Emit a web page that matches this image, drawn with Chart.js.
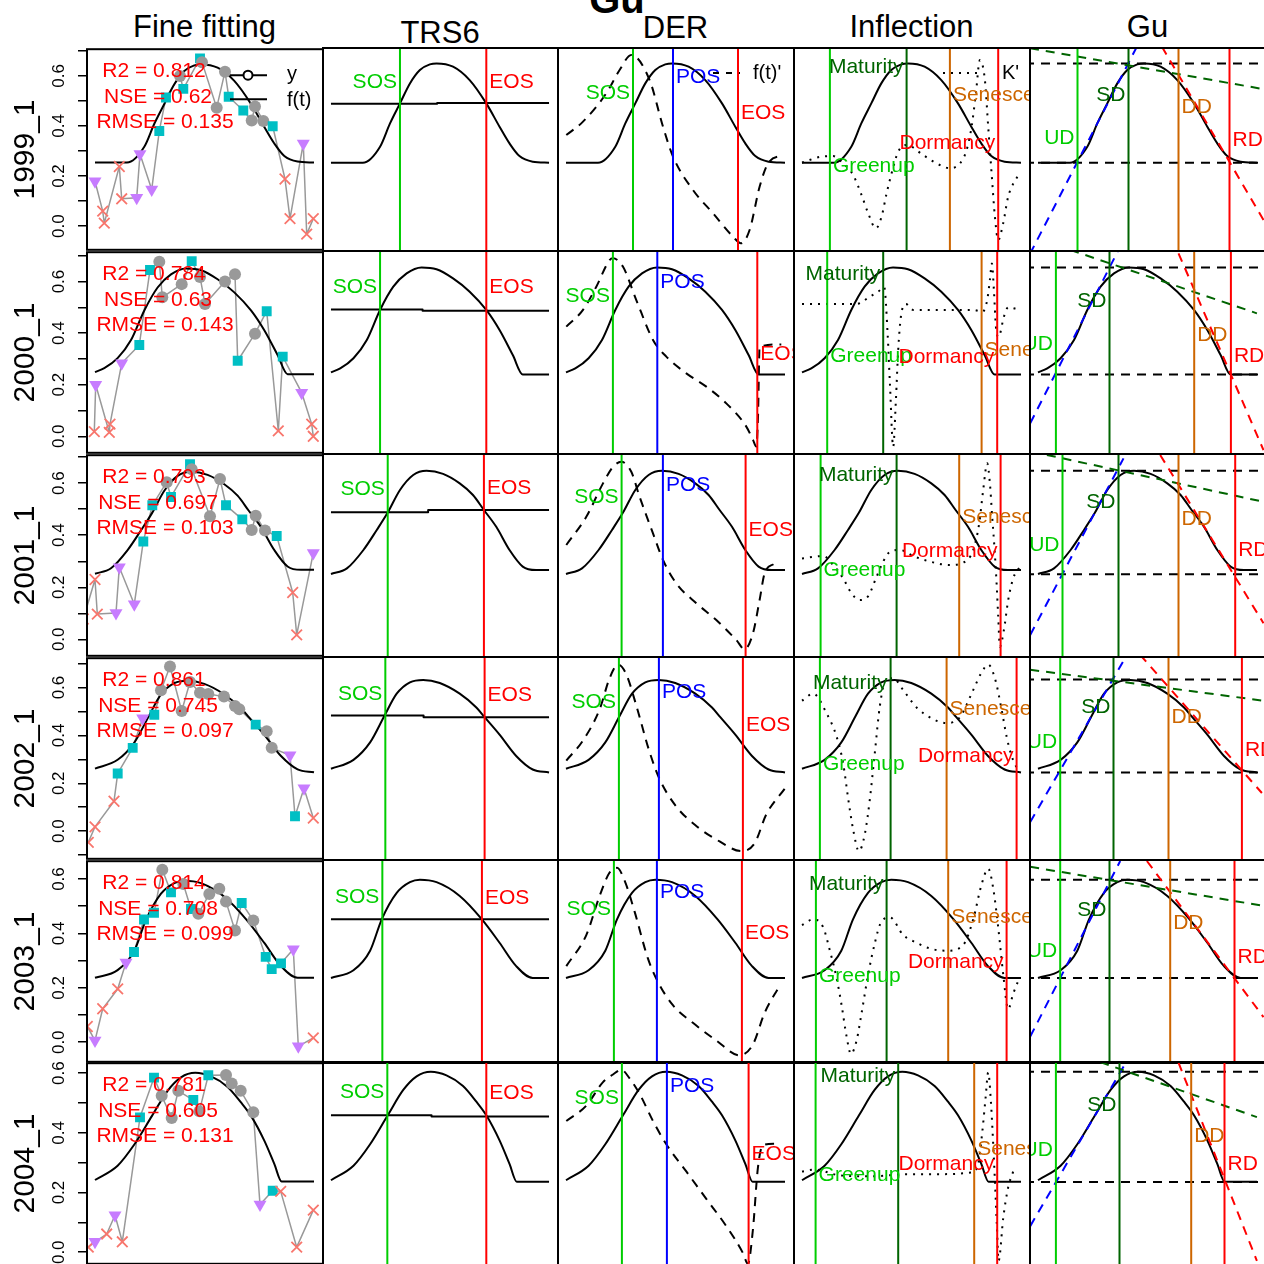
<!DOCTYPE html>
<html>
<head>
<meta charset="utf-8">
<script src="https://cdn.jsdelivr.net/npm/chart.js@4.4.1/dist/chart.umd.min.js"></script>
<style>
html,body{margin:0;padding:0;background:#fff;overflow:hidden;}
body{width:1264px;height:1264px;position:relative;font-family:'Liberation Sans',Arial,Helvetica,sans-serif;}
canvas{position:absolute;}
.ttl{position:absolute;white-space:nowrap;line-height:1;color:#000;transform:translateX(-50%);}
</style>
</head>
<body>
<script>
// ---------------- DATA ----------------
const mainTitle = 'Gu';
const colTitles = ['Fine fitting', 'TRS6', 'DER', 'Inflection', 'Gu'];
const rowLabels = ['1999_1', '2000_1', '2001_1', '2002_1', '2003_1', '2004_1'];
const yMin = [-0.0947, -0.0640, -0.0634, -0.1156, -0.0719, -0.0387];
const yMax = [0.7067, 0.7138, 0.7076, 0.7225, 0.6656, 0.6334];

const statR2 = ['0.812', '0.784', '0.793', '0.861', '0.814', '0.781'];
const statNSE = ['0.62', '0.63', '0.697', '0.745', '0.708', '0.605'];
const statRMSE = ['0.135', '0.143', '0.103', '0.097', '0.099', '0.131'];

// fitted curve f(t) per season
const fitT = [
  [0, 32, 49.3, 59.3, 69.3, 79.3, 89.3, 99.3, 106, 122.6, 139.3, 156, 169.3, 179.3, 189.3, 202.6, 219],
  [0, 9.3, 22.6, 36, 49.3, 62.6, 76, 91, 106, 122.6, 139.3, 156, 169.3, 182.6, 192.6, 219],
  [0, 16, 32.6, 46, 57, 69.3, 82.6, 96, 112.6, 129.3, 142.6, 153.6, 166, 179.3, 192.6, 206, 219],
  [0, 22.6, 39.3, 53.6, 66, 79.3, 92.6, 109.3, 129.3, 146, 154.3, 169.3, 186, 202.6, 219],
  [0, 22.6, 39.3, 51, 66, 79.3, 89.3, 106, 129.3, 151.6, 169.3, 186, 202.6, 219],
  [0, 22.6, 39.3, 57, 72.6, 86, 100.3, 116, 132.6, 146, 156, 169.3, 179.3, 186.6, 219]
];
const fitV = [
  [0.254, 0.254, 0.317, 0.409, 0.488, 0.567, 0.620, 0.642, 0.646, 0.633, 0.580, 0.488, 0.396, 0.330, 0.280, 0.258, 0.254],
  [0.249, 0.264, 0.303, 0.373, 0.488, 0.577, 0.628, 0.651, 0.644, 0.609, 0.558, 0.488, 0.411, 0.315, 0.241, 0.241],
  [0.252, 0.273, 0.343, 0.419, 0.485, 0.571, 0.628, 0.644, 0.632, 0.596, 0.552, 0.495, 0.431, 0.343, 0.280, 0.267, 0.267],
  [0.261, 0.298, 0.370, 0.479, 0.571, 0.618, 0.628, 0.615, 0.571, 0.514, 0.474, 0.402, 0.314, 0.258, 0.246],
  [0.237, 0.265, 0.336, 0.450, 0.546, 0.585, 0.594, 0.585, 0.535, 0.450, 0.365, 0.280, 0.237, 0.237],
  [0.242, 0.290, 0.361, 0.457, 0.541, 0.586, 0.601, 0.589, 0.554, 0.502, 0.457, 0.374, 0.296, 0.237, 0.237]
];

// observations y: time, value, quality (c = grey circle, s = cyan square, t = purple triangle, x = salmon cross)
const obsT = [
  [0, 7.7, 9.3, 24.3, 26.7, 41.7, 45, 56.7, 64.3, 71, 85, 88.3, 105, 107, 121.7, 130, 133.7, 148.3, 156.7, 160, 168.3, 177.7, 190, 195, 208.3, 211.7, 218.3],
  [-0.7, 0.7, 14.3, 15, 26.7, 44.3, 55, 64.3, 67.3, 86.7, 96.7, 105, 110, 130, 140, 142.7, 160, 171.7, 183.3, 187.7, 206.7, 216.7, 218.3],
  [-11.7, 0, 2.3, 21, 24.3, 39.3, 48.3, 57.3, 71.7, 76, 95, 96.7, 115, 125, 131, 147.3, 156.7, 160.7, 170, 181.7, 197.7, 201.7, 218.3],
  [-6.7, 0, 19, 22.7, 37.7, 47.7, 59.3, 66, 75, 86.7, 95, 105, 113.3, 129, 140, 144.3, 160.7, 171.7, 176.7, 195, 200, 209, 218.3],
  [-7.7, 0, 7.7, 22.7, 31, 39, 49, 59, 67.3, 76, 88.3, 96, 103.3, 114.3, 124.3, 131, 140, 146.7, 158.3, 170.7, 176.7, 186, 198.3, 203.3, 218.3],
  [-6.7, 0, 11.7, 20, 27.3, 45, 59, 66.7, 76.7, 83.3, 98.3, 104.3, 113.3, 131, 136.7, 145.7, 158.3, 165, 177.7, 185.7, 201.7, 218.3]
];
const obsV = [
  [0.179, 0.060, 0.012, 0.238, 0.109, 0.113, 0.288, 0.146, 0.380, 0.514, 0.600, 0.548, 0.670, 0.655, 0.473, 0.617, 0.517, 0.462, 0.422, 0.478, 0.420, 0.399, 0.188, 0.030, 0.330, -0.032, 0.030],
  [0.018, 0.200, 0.015, 0.047, 0.283, 0.354, 0.645, 0.677, 0.539, 0.590, 0.679, 0.618, 0.513, 0.600, 0.628, 0.293, 0.398, 0.485, 0.021, 0.309, 0.169, 0.047, 0.000],
  [0.078, 0.230, 0.097, 0.101, 0.277, 0.135, 0.376, 0.515, 0.604, 0.547, 0.673, 0.654, 0.473, 0.616, 0.515, 0.461, 0.420, 0.475, 0.418, 0.397, 0.180, 0.017, 0.332],
  [-0.047, 0.018, 0.125, 0.241, 0.348, 0.472, 0.486, 0.589, 0.688, 0.502, 0.623, 0.578, 0.573, 0.562, 0.523, 0.509, 0.445, 0.417, 0.348, 0.317, 0.062, 0.179, 0.055],
  [0.058, 0.006, 0.123, 0.196, 0.293, 0.332, 0.451, 0.476, 0.634, 0.551, 0.582, 0.490, 0.472, 0.545, 0.564, 0.517, 0.411, 0.512, 0.448, 0.314, 0.269, 0.290, 0.342, -0.015, 0.016],
  [0.017, 0.035, 0.061, 0.124, 0.035, 0.452, 0.585, 0.524, 0.450, 0.541, 0.510, 0.472, 0.593, 0.594, 0.565, 0.541, 0.469, 0.160, 0.206, 0.204, 0.017, 0.141]
];
const obsQ = [
  'txxxxtttsscsscccsscccsxxtxx',
  'xtxxtsscccsccccscsxstxx',
  'xxxtttsscsscccsscccsxxt',
  'xxxsstscccccccccscctstx',
  'xtxxtssscscscccccscsssttx',
  'xtxtxsscccscscccctsxxx'
];

// TRS6
const trsSOS = [69.3, 49.3, 57, 54.6, 51.6, 56.6];
const trsEOS = [156, 156, 153.6, 154.3, 151.6, 156];
const trsThrL = [0.487, 0.490, 0.486, 0.481, 0.450, 0.457];
const trsThrR = [0.4895, 0.485, 0.495, 0.474, 0.450, 0.453];
const trsStepT = [106.6, 92, 97.6, 93, 89, 101];
const trsLabY = [[0.572, 0.572], [0.577, 0.576], [0.573, 0.577], [0.567, 0.564], [0.532, 0.528], [0.534, 0.530]];

// DER: rescaled derivative f(t)'
const derT = [
  [0.3, 17, 40.3, 53.6, 65.3, 83.6, 97, 107, 127, 147, 167, 175, 183.6, 193.6, 202, 217],
  [0.3, 17, 30.3, 43.6, 46.9, 56.9, 70.3, 87, 100.3, 120.3, 140.3, 160.3, 180.3, 187, 190.3, 192, 193.6, 215.3],
  [0.3, 20.3, 37, 47, 55.3, 65.3, 73.6, 87, 97, 110.3, 130.3, 150.3, 170.3, 178.6, 187, 193.6, 198.6, 208.6],
  [0.3, 17, 33.6, 43.6, 52, 60.3, 70.3, 83.6, 93.6, 110.3, 130.3, 153.6, 175.3, 188.6, 200.3, 218.6],
  [0.3, 20.3, 33.6, 43.6, 51, 58.6, 68.6, 81.9, 91.9, 106.9, 126.9, 150.3, 173.6, 187, 198.6, 213.6],
  [0.3, 20.3, 37, 47, 55.3, 63.6, 73.6, 87, 100.3, 120.3, 140.3, 160.3, 176.9, 181.9, 186.9, 191.9, 196.9, 208.6]
];
const derV = [
  [0.363, 0.416, 0.528, 0.620, 0.679, 0.580, 0.396, 0.278, 0.146, 0.054, -0.038, -0.064, -0.012, 0.159, 0.251, 0.284],
  [0.424, 0.488, 0.577, 0.679, 0.686, 0.654, 0.526, 0.373, 0.309, 0.245, 0.194, 0.130, 0.041, -0.010, -0.036, 0.079, 0.347, 0.356],
  [0.362, 0.469, 0.596, 0.659, 0.678, 0.640, 0.545, 0.406, 0.305, 0.216, 0.141, 0.077, 0.001, -0.034, 0.027, 0.153, 0.254, 0.292],
  [0.295, 0.378, 0.506, 0.635, 0.691, 0.651, 0.522, 0.330, 0.218, 0.105, 0.025, -0.039, -0.079, -0.047, 0.073, 0.178],
  [0.280, 0.393, 0.535, 0.620, 0.637, 0.591, 0.478, 0.308, 0.223, 0.138, 0.074, 0.010, -0.044, -0.004, 0.110, 0.209],
  [0.438, 0.489, 0.567, 0.592, 0.608, 0.579, 0.528, 0.438, 0.361, 0.271, 0.180, 0.090, 0.001, -0.035, 0.078, 0.283, 0.358, 0.363]
];
const derLines = [[67, 107, 172], [46.9, 91.3, 191.3], [55.6, 96.9, 179.6], [52.9, 92.9, 176.9], [47.9, 90.9, 175.9], [55.9, 100.9, 182.6]];
const derLabY = [[0.529, 0.592, 0.450], [0.539, 0.596, 0.319], [0.543, 0.590, 0.419], [0.535, 0.578, 0.442], [0.488, 0.549, 0.400], [0.515, 0.554, 0.328]];

// Inflection: rescaled curvature change rate K'
const kT = [
  [0, 19.6, 31.2, 41.2, 51.2, 59.6, 66.2, 73.9, 79.6, 84.6, 89.6, 96.2, 104.6, 121.2, 134.6, 147.9, 157.9, 164.6, 169.6, 173.9, 177.9, 182.9, 186.2, 189.6, 192.9, 196.2, 201.2, 206.2, 216.2],
  [0, 54.6, 67.9, 76.2, 82.2, 85.6, 87.9, 91.2, 93.9, 96.2, 98.9, 103.9, 111.2, 171.2, 180.6, 185.2, 187.9, 189.9, 191.9, 193.9, 196.6, 201.9, 206.2, 216.2],
  [0, 21.2, 31.2, 41.2, 49.6, 57.2, 66.2, 73.9, 81.2, 87.9, 97.9, 111.2, 127.9, 147.9, 161.2, 171.2, 177.2, 181.2, 185.2, 187.9, 190.2, 192.6, 194.6, 196.2, 197.9, 201.9, 206.2, 211.2, 217.9],
  [0, 11.2, 24.6, 34.6, 41.2, 46.2, 51.2, 56.9, 62.9, 67.9, 72.9, 77.9, 84.6, 91.2, 101.2, 114.6, 131.2, 144.6, 157.9, 171.2, 179.6, 186.2, 192.9, 199.6, 204.6, 209.6, 216.2],
  [0, 11.2, 21.2, 27.9, 34.6, 39.6, 44.6, 48.9, 54.6, 59.6, 66.2, 72.9, 78.6, 87.9, 101.2, 114.6, 127.9, 144.6, 161.2, 171.2, 179.6, 186.2, 191.2, 196.2, 201.2, 206.2, 211.2, 216.2],
  [0, 12.9, 37.9, 71.2, 104.6, 137.9, 169.6, 176.2, 180.2, 183.6, 186.2, 188.9, 191.2, 193.2, 194.9, 196.6, 201.2, 206.2, 211.2]
];
const kV = [
  [0.254, 0.278, 0.280, 0.251, 0.205, 0.126, 0.054, -0.005, 0.041, 0.133, 0.212, 0.297, 0.324, 0.284, 0.251, 0.232, 0.251, 0.304, 0.396, 0.528, 0.659, 0.580, 0.396, 0.212, 0.041, -0.051, 0.015, 0.120, 0.205],
  [0.511, 0.511, 0.539, 0.558, 0.575, 0.398, 0.207, -0.036, 0.143, 0.334, 0.462, 0.511, 0.488, 0.488, 0.481, 0.526, 0.603, 0.666, 0.564, 0.424, 0.385, 0.462, 0.498, 0.490],
  [0.311, 0.320, 0.286, 0.235, 0.178, 0.153, 0.168, 0.235, 0.299, 0.336, 0.343, 0.320, 0.299, 0.286, 0.295, 0.343, 0.444, 0.571, 0.672, 0.596, 0.469, 0.343, 0.216, 0.090, -0.024, 0.039, 0.153, 0.235, 0.280],
  [0.542, 0.571, 0.490, 0.394, 0.282, 0.137, 0.009, -0.079, -0.007, 0.137, 0.330, 0.522, 0.635, 0.635, 0.586, 0.514, 0.466, 0.450, 0.474, 0.586, 0.659, 0.691, 0.635, 0.506, 0.394, 0.314, 0.253],
  [0.429, 0.450, 0.421, 0.336, 0.237, 0.138, 0.024, -0.039, 0.010, 0.110, 0.251, 0.365, 0.436, 0.457, 0.393, 0.365, 0.344, 0.336, 0.357, 0.450, 0.577, 0.634, 0.563, 0.421, 0.251, 0.124, 0.180, 0.226],
  [0.271, 0.277, 0.258, 0.255, 0.262, 0.262, 0.268, 0.296, 0.399, 0.515, 0.599, 0.502, 0.361, 0.219, 0.090, -0.025, 0.116, 0.219, 0.271]
];
const infLines = [[27.9, 104.6, 147.9, 196.2], [25.2, 81.2, 179.6, 195.2], [18.6, 94.6, 157.2, 198.6], [17.9, 88.6, 144.6, 214.6], [13.9, 84.6, 146.2, 204.6], [13.6, 96.2, 172.2, 195.2]];
const infLabY = [[0.242, 0.632, 0.521, 0.332], [0.311, 0.626, 0.334, 0.307], [0.267, 0.628, 0.466, 0.339], [0.279, 0.615, 0.506, 0.314], [0.244, 0.577, 0.457, 0.294], [0.258, 0.586, 0.345, 0.296]];

// Gu
const guLines = [[39.5, 90.5, 140.5, 191.5], [17.9, 71.5, 156.2, 192.9], [24.5, 80.5, 140.5, 197.2], [22.2, 75.5, 130.5, 203.9], [22.2, 71.5, 132.2, 196.5], [17.9, 81.5, 153.2, 186.5]];
const guLabY = [[0.351, 0.521, 0.474, 0.343], [0.357, 0.520, 0.392, 0.309], [0.362, 0.524, 0.460, 0.343], [0.370, 0.514, 0.474, 0.338], [0.336, 0.482, 0.436, 0.311], [0.341, 0.492, 0.389, 0.296]];
const guHi = [0.646, 0.651, 0.644, 0.630, 0.594, 0.601];
const guLo = [0.254, 0.241, 0.251, 0.246, 0.237, 0.236];
const guBlue = [[-8, -0.106, 98.9, 0.712], [-7.8, 0.054, 80.5, 0.718], [-7.8, 0.020, 85.5, 0.691], [-7.8, 0.041, 88.9, 0.731], [-7.8, 0.024, 82.2, 0.662], [-7.8, 0.090, 88.5, 0.635]];
const guGreen = [[-8, 0.706, 226.2, 0.544], [32.2, 0.718, 218.9, 0.475], [8.9, 0.704, 225.5, 0.526], [-7.8, 0.670, 225.5, 0.542], [-7.8, 0.641, 225.5, 0.499], [62.2, 0.633, 218.9, 0.451]];
const guRed = [[123.9, 0.712, 225.5, 0.028], [140.5, 0.705, 225.5, -0.049], [122.2, 0.704, 225.5, 0.065], [102.2, 0.731, 223.9, 0.161], [108.9, 0.662, 225.5, 0.095], [140.5, 0.631, 218.9, -0.025]];

// ---------------- LAYOUT / STYLE ----------------
const FONT = "'Liberation Sans', Arial, Helvetica, sans-serif";
Chart.defaults.font.family = FONT;
const COL_X = [87, 323, 558, 794, 1030];
const COL_W = [236, 235, 236, 236, 236];
const ROW_Y = [48, 251, 454, 657, 860, 1062];
const ROW_H = 203;
const PAD = 16;
const X_MIN = -8, X_MAX = 228;
const COL = { green: '#00CD00', dkgreen: '#006400', orange: '#CD6600', red: '#FF0000', blue: '#0000FF',
  grey: '#999999', cyan: '#00BFC4', purple: '#C77CFF', salmon: '#F8766D', black: '#000000' };

// titles (HTML text)
function addTitle(text, cx, baseline, size, bold) {
  const d = document.createElement('div');
  d.className = 'ttl';
  d.textContent = text;
  d.style.left = cx + 'px';
  d.style.top = (baseline - 0.8465 * size) + 'px';
  d.style.fontSize = size + 'px';
  if (bold) d.style.fontWeight = 'bold';
  document.body.appendChild(d);
}
addTitle(mainTitle, 617, 13, 40, true);
const titleCX = [204.5, 440, 675.5, 911.5, 1147.5];
const titleBase = [37, 43, 38.3, 37.3, 37.3];
colTitles.forEach((t, i) => addTitle(t, titleCX[i], titleBase[i], 31, false));

// ---------------- HELPERS ----------------
const xy = (ts, vs) => ts.map((t, i) => ({ x: t, y: vs[i] }));
function lineDS(data, color, width, dash, smooth) {
  return { data, borderColor: color, borderWidth: width, borderDash: dash || [], pointRadius: 0, pointHitRadius: 0,
    fill: false, tension: 0, cubicInterpolationMode: smooth ? 'monotone' : 'default', borderCapStyle: 'butt', borderJoinStyle: 'round' };
}
function vline(t, r, color) {
  return lineDS([{ x: t, y: yMin[r] - 1 }, { x: t, y: yMax[r] + 1 }], color, 2);
}
function seg(p, color, dash) {
  return lineDS([{ x: p[0], y: p[1] }, { x: p[2], y: p[3] }], color, 2, dash);
}
const fitDS = r => lineDS(xy(fitT[r], fitV[r]), COL.black, 2, null, true);

const cfgMap = new Map();
const panelPlugin = {
  id: 'panelDeco',
  afterDatasetsDraw(chart) {
    const cfg = cfgMap.get(chart.canvas);
    if (!cfg) return;
    const { ctx, chartArea: a } = chart;
    const sx = chart.scales.x, sy = chart.scales.y;
    ctx.save();
    ctx.beginPath();
    ctx.rect(a.left, a.top, a.right - a.left, a.bottom - a.top);
    ctx.clip();
    ctx.textBaseline = 'middle';
    ctx.font = '21px ' + FONT;
    (cfg.labels || []).forEach(L => {
      ctx.fillStyle = L.color;
      ctx.textAlign = L.side < 0 ? 'right' : 'left';
      ctx.fillText(L.text, sx.getPixelForValue(L.t) + L.side * 3, sy.getPixelForValue(L.v));
    });
    if (cfg.stats) {
      ctx.fillStyle = COL.red;
      ctx.textAlign = 'center';
      ctx.textBaseline = 'alphabetic';
      const dx = [67, 71, 78], dy = [28, 53.5, 78.5];
      cfg.stats.forEach((s, i) => ctx.fillText(s, a.left + dx[i], a.top + dy[i]));
    }
    if (cfg.legend) {
      ctx.strokeStyle = COL.black;
      ctx.fillStyle = COL.black;
      ctx.lineWidth = 2;
      ctx.font = '20px ' + FONT;
      ctx.textAlign = 'left';
      ctx.textBaseline = 'middle';
      if (cfg.legend === 'fit') {
        ctx.beginPath(); ctx.moveTo(a.left + 143, a.top + 26); ctx.lineTo(a.left + 180, a.top + 26); ctx.stroke();
        ctx.fillStyle = '#fff';
        ctx.beginPath(); ctx.arc(a.left + 161, a.top + 26, 4.5, 0, Math.PI * 2); ctx.fill(); ctx.stroke();
        ctx.fillStyle = COL.black;
        ctx.fillText('y', a.left + 200, a.top + 25);
        ctx.beginPath(); ctx.moveTo(a.left + 143, a.top + 50); ctx.lineTo(a.left + 180, a.top + 50); ctx.stroke();
        ctx.fillText('f(t)', a.left + 200, a.top + 51);
      } else if (cfg.legend === 'der') {
        ctx.setLineDash([6, 7]);
        ctx.beginPath(); ctx.moveTo(a.left + 155, a.top + 25); ctx.lineTo(a.left + 182, a.top + 25); ctx.stroke();
        ctx.setLineDash([]);
        ctx.fillText("f(t)'", a.left + 195, a.top + 25);
      } else if (cfg.legend === 'k') {
        ctx.setLineDash([2, 6]);
        ctx.beginPath(); ctx.moveTo(a.left + 149, a.top + 25); ctx.lineTo(a.left + 183, a.top + 25); ctx.stroke();
        ctx.setLineDash([]);
        ctx.fillText("K'", a.left + 208, a.top + 25);
      }
    }
    ctx.restore();
  },
  afterDraw(chart) {
    const { ctx, chartArea: a } = chart;
    ctx.save();
    ctx.strokeStyle = '#000';
    ctx.lineWidth = 2;
    ctx.strokeRect(a.left, a.top, a.right - a.left, a.bottom - a.top);
    ctx.restore();
  }
};

function addChart(r, c, datasets, deco) {
  const first = c === 0;
  const left = first ? 0 : COL_X[c] - PAD;
  const width = first ? COL_X[0] + COL_W[0] + PAD : COL_W[c] + 2 * PAD;
  const top = ROW_Y[r] - PAD;
  const height = ROW_H + 2 * PAD;
  const cv = document.createElement('canvas');
  cv.width = width; cv.height = height;
  cv.style.left = left + 'px'; cv.style.top = top + 'px';
  cv.style.width = width + 'px'; cv.style.height = height + 'px';
  document.body.appendChild(cv);
  cfgMap.set(cv, deco || {});
  datasets.forEach((d, i) => { d.order = -i; });
  const yScale = { type: 'linear', min: yMin[r], max: yMax[r], display: false };
  if (first) {
    Object.assign(yScale, {
      display: true,
      position: 'left',
      afterFit: s => { s.width = COL_X[0]; },
      border: { display: false },
      grid: { drawOnChartArea: false, drawTicks: true, tickLength: 9, tickColor: '#000', lineWidth: 1.5 },
      ticks: {
        stepSize: 0.1, autoSkip: false, includeBounds: false, minRotation: 90, maxRotation: 90,
        crossAlign: 'center', padding: 7, color: '#000', font: { size: 17, family: FONT },
        callback: v => (Math.round(v * 10) % 2 === 0 ? (Math.round(v * 10) / 10).toFixed(1) : '')
      },
      title: { display: true, text: rowLabels[r], color: '#000', font: { size: 30, family: FONT }, padding: { top: 8, bottom: 0 } }
    });
  }
  new Chart(cv, {
    type: 'line',
    data: { datasets },
    options: {
      responsive: false, maintainAspectRatio: false, animation: false, devicePixelRatio: 1, events: [],
      layout: { padding: { left: first ? 0 : PAD, right: PAD, top: PAD, bottom: PAD } },
      plugins: { legend: { display: false }, tooltip: { enabled: false }, title: { display: false } },
      scales: {
        x: { type: 'linear', min: X_MIN, max: X_MAX, display: false },
        y: yScale
      }
    },
    plugins: [panelPlugin]
  });
}

const QSTYLE = {
  c: { style: 'circle', r: 6, bg: COL.grey, bd: COL.grey, bw: 0, rot: 0 },
  s: { style: 'rect', r: 7, bg: COL.cyan, bd: COL.cyan, bw: 0, rot: 0 },
  t: { style: 'triangle', r: 7.5, bg: COL.purple, bd: COL.purple, bw: 0, rot: 180 },
  x: { style: 'crossRot', r: 7.5, bg: COL.salmon, bd: COL.salmon, bw: 1.8, rot: 0 }
};

// ---------------- BUILD ----------------
for (let r = 0; r < 6; r++) {
  // Fine fitting
  const q = obsQ[r].split('').map(k => QSTYLE[k]);
  const pts = xy(obsT[r], obsV[r]);
  const greyLine = lineDS(pts, COL.grey, 1.5);
  const points = {
    data: pts, showLine: false, pointStyle: q.map(s => s.style), pointRadius: q.map(s => s.r),
    pointBackgroundColor: q.map(s => s.bg), pointBorderColor: q.map(s => s.bd),
    pointBorderWidth: q.map(s => s.bw), pointRotation: q.map(s => s.rot), pointHitRadius: 0
  };
  addChart(r, 0, [greyLine, fitDS(r), points], {
    stats: ['R2 = ' + statR2[r], 'NSE = ' + statNSE[r], 'RMSE = ' + statRMSE[r]],
    legend: r === 0 ? 'fit' : null
  });

  // TRS6
  const thr = lineDS([{ x: 0, y: trsThrL[r] }, { x: trsStepT[r], y: trsThrL[r] }, { x: trsStepT[r], y: trsThrR[r] }, { x: 219, y: trsThrR[r] }], COL.black, 2);
  addChart(r, 1, [fitDS(r), thr, vline(trsSOS[r], r, COL.green), vline(trsEOS[r], r, COL.red)], {
    labels: [
      { t: trsSOS[r], v: trsLabY[r][0], text: 'SOS', color: COL.green, side: -1 },
      { t: trsEOS[r], v: trsLabY[r][1], text: 'EOS', color: COL.red, side: 1 }
    ]
  });

  // DER
  const dl = derLines[r];
  addChart(r, 2, [fitDS(r), lineDS(xy(derT[r], derV[r]), COL.black, 2, [9, 7], true),
    vline(dl[0], r, COL.green), vline(dl[1], r, COL.blue), vline(dl[2], r, COL.red)], {
    labels: [
      { t: dl[0], v: derLabY[r][0], text: 'SOS', color: COL.green, side: -1 },
      { t: dl[1], v: derLabY[r][1], text: 'POS', color: COL.blue, side: 1 },
      { t: dl[2], v: derLabY[r][2], text: 'EOS', color: COL.red, side: 1 }
    ],
    legend: r === 0 ? 'der' : null
  });

  // Inflection
  const il = infLines[r];
  addChart(r, 3, [fitDS(r), lineDS(xy(kT[r], kV[r]), COL.black, 2, [2, 6], true),
    vline(il[0], r, COL.green), vline(il[1], r, COL.dkgreen), vline(il[2], r, COL.orange), vline(il[3], r, COL.red)], {
    labels: [
      { t: il[0], v: infLabY[r][0], text: 'Greenup', color: COL.green, side: 1 },
      { t: il[1], v: infLabY[r][1], text: 'Maturity', color: COL.dkgreen, side: -1 },
      { t: il[2], v: infLabY[r][2], text: 'Senescence', color: COL.orange, side: 1 },
      { t: il[3], v: infLabY[r][3], text: 'Dormancy', color: COL.red, side: -1 }
    ],
    legend: r === 0 ? 'k' : null
  });

  // Gu
  const gl = guLines[r];
  addChart(r, 4, [fitDS(r),
    seg([X_MIN - 5, guHi[r], X_MAX + 5, guHi[r]], COL.black, [9, 7]),
    seg([X_MIN - 5, guLo[r], X_MAX + 5, guLo[r]], COL.black, [9, 7]),
    seg(guBlue[r], COL.blue, [9, 7]), seg(guGreen[r], COL.dkgreen, [9, 7]), seg(guRed[r], COL.red, [9, 7]),
    vline(gl[0], r, COL.green), vline(gl[1], r, COL.dkgreen), vline(gl[2], r, COL.orange), vline(gl[3], r, COL.red)], {
    labels: [
      { t: gl[0], v: guLabY[r][0], text: 'UD', color: COL.green, side: -1 },
      { t: gl[1], v: guLabY[r][1], text: 'SD', color: COL.dkgreen, side: -1 },
      { t: gl[2], v: guLabY[r][2], text: 'DD', color: COL.orange, side: 1 },
      { t: gl[3], v: guLabY[r][3], text: 'RD', color: COL.red, side: 1 }
    ]
  });
}
</script>
</body>
</html>
